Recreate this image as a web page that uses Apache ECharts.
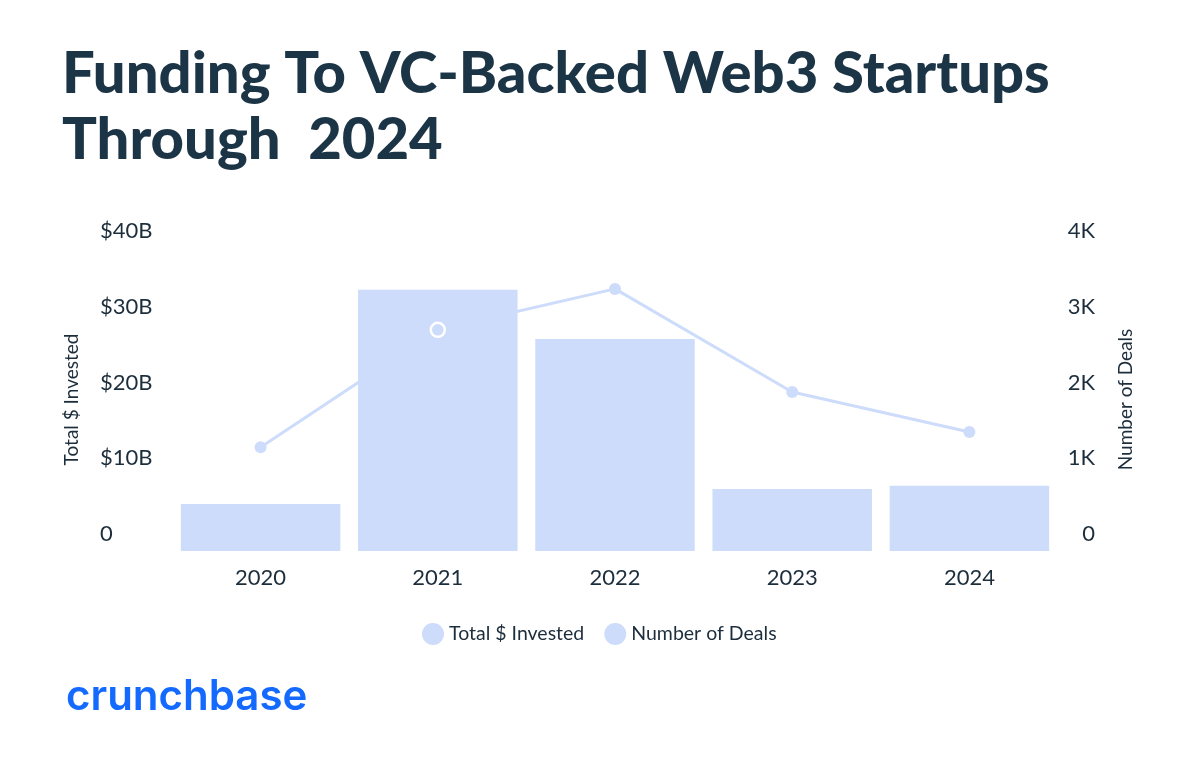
<!DOCTYPE html>
<html>
<head>
<meta charset="utf-8">
<script src="https://cdn.jsdelivr.net/npm/echarts@6/dist/echarts.min.js"></script>
<style>
  html, body { margin: 0; padding: 0; background: #fff; }
  #chart { width: 1200px; height: 776px; }
</style>
</head>
<body>
<div id="chart"></div>
<script>
// data
var years = ['2020', '2021', '2022', '2023', '2024'];
var invested = [6.2, 34.5, 28.0, 8.2, 8.6];         // $B
var deals = [1370, 2920, 3460, 2100, 1570];          // count
var leftTicks = ['0', '$10B', '$20B', '$30B', '$40B'];
var rightTicks = ['0', '1K', '2K', '3K', '4K'];
var ringIndex = 1; // highlighted point drawn as hollow ring

var blue = '#cddcfa';
var ink = '#1c2d3b';
var font = 'Lato';

var chart = echarts.init(document.getElementById('chart'));

var dealData = deals.map(function (v, i) {
  if (i !== ringIndex) return v;
  return {
    value: v,
    itemStyle: { color: 'rgba(0,0,0,0)', borderColor: '#fff', borderWidth: 2.5 },
    symbolSize: 14
  };
});

var option = {
  backgroundColor: '#fff',
  animation: false,
  title: {
    text: 'Funding To VC-Backed Web3 Startups\nThrough  2024',
    left: 57,
    top: 36,
    textStyle: {
      fontFamily: font,
      fontWeight: 900,
      fontSize: 58,
      lineHeight: 66,
      color: '#1b3446'
    }
  },
  legend: {
    left: 417,
    top: 618,
    itemWidth: 22,
    itemHeight: 22,
    itemGap: 20,
    icon: 'circle',
    textStyle: { fontFamily: font, fontSize: 19.5, color: ink },
    data: [
      { name: 'Total $ Invested', itemStyle: { color: blue } },
      { name: 'Number of Deals', itemStyle: { color: blue, borderWidth: 0 } }
    ]
  },
  grid: { left: 172, right: 142, top: 248, bottom: 225 },
  xAxis: {
    type: 'category',
    data: years,
    axisLine: { show: false },
    axisTick: { show: false },
    axisLabel: { fontFamily: font, fontSize: 22, color: ink, margin: 16 }
  },
  yAxis: [
    {
      type: 'value',
      min: 0, max: 40, interval: 10,
      name: 'Total $ Invested',
      nameLocation: 'middle',
      nameGap: 91,
      nameRotate: 90,
      nameTextStyle: { fontFamily: font, fontSize: 19, color: ink },
      splitLine: { show: false },
      axisLine: { show: false },
      axisTick: { show: false },
      axisLabel: {
        fontFamily: font, fontSize: 22, color: ink,
        align: 'left', margin: 72, verticalAlign: 'bottom', padding: [0, 0, 6, 0],
        formatter: function (v) { return leftTicks[Math.round(v / 10)]; }
      }
    },
    {
      type: 'value',
      min: 0, max: 4000, interval: 1000,
      name: 'Number of Deals',
      nameLocation: 'middle',
      nameGap: 58,
      nameRotate: 90,
      nameTextStyle: { fontFamily: font, fontSize: 19, color: ink },
      splitLine: { show: false },
      axisLine: { show: false },
      axisTick: { show: false },
      axisLabel: {
        fontFamily: font, fontSize: 22, color: ink,
        align: 'right', margin: 37, verticalAlign: 'bottom', padding: [0, 0, 6, 0],
        formatter: function (v) { return rightTicks[Math.round(v / 1000)]; }
      }
    }
  ],
  series: [
    {
      name: 'Total $ Invested',
      type: 'bar',
      data: invested,
      barCategoryGap: '10%',
      itemStyle: { color: blue },
      z: 2
    },
    {
      name: 'Number of Deals',
      type: 'line',
      yAxisIndex: 1,
      data: dealData,
      symbol: 'circle',
      symbolSize: 12,
      lineStyle: { color: blue, width: 3 },
      itemStyle: { color: blue },
      z: 3
    }
  ],
  graphic: [
    {
      type: 'text',
      left: 66,
      top: 676,
      style: {
        text: 'crunchbase',
        font: '600 42px Inter',
        fill: '#146aff'
      }
    }
  ]
};

chart.setOption(option);
</script>
</body>
</html>
